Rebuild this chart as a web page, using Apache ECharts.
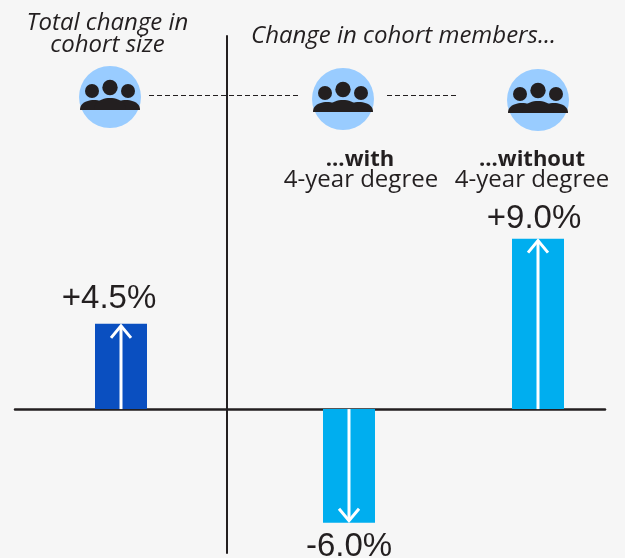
<!DOCTYPE html>
<html><head><meta charset="utf-8">
<style>html,body{margin:0;padding:0;background:#f6f6f6}#c{width:625px;height:558px}</style>
<script src="https://cdn.jsdelivr.net/npm/echarts@6/dist/echarts.min.js"></script>
</head><body><div id="c"></div>
<script>
const totalCategories = ['Total change in cohort size'];
const totalValues = [4.5];
const totalLabels = ['+4.5%'];
const degreeCategories = ['...with 4-year degree', '...without 4-year degree'];
const degreeValues = [-6.0, 9.0];
const degreeLabels = ['-6.0%', '+9.0%'];

const DARK = '#231f20', BLUE = '#0a4fc0', CYAN = '#00aeef', DISC = '#99ccff', BG = '#f6f6f6';
const yRange = {min: -7.6, max: 19.7};
const FONT = 'Open Sans';

function hiddenY(idx, extra) {
  return Object.assign({type: 'value', gridIndex: idx, min: yRange.min, max: yRange.max,
    axisLabel: {show: false}, axisTick: {show: false}, splitLine: {show: false}, axisLine: {show: false}}, extra || {});
}
function hiddenX(idx, data, extra) {
  return Object.assign({type: 'category', gridIndex: idx, data: data,
    axisLabel: {show: false}, axisTick: {show: false}, splitLine: {show: false}, axisLine: {show: false}}, extra || {});
}
function arrow(params, api) {
  const base = api.coord([api.value(0), 0]);
  const end = api.coord([api.value(0), api.value(1)]);
  const dir = end[1] < base[1] ? 1 : -1;       // 1 = pointing up
  const tipY = end[1] + dir * 2;
  const x = base[0];
  const st = {stroke: '#ffffff', lineWidth: 3, fill: null};
  return {type: 'group', children: [
    {type: 'line', shape: {x1: x, y1: base[1], x2: x, y2: tipY}, style: st},
    {type: 'polyline', shape: {points: [[x - 10, tipY + dir * 12], [x, tipY], [x + 10, tipY + dir * 12]]}, style: st}
  ]};
}
function barData(values, colors, labelPlace) {
  return values.map((v, i) => ({value: v, itemStyle: {color: colors[i]},
    label: {position: v >= 0 ? 'top' : 'bottom', distance: labelPlace[i][0], offset: [labelPlace[i][1], 0]}}));
}
function labelOpt(labels) {
  return {show: true, fontFamily: 'Liberation Sans', fontSize: 33, color: DARK,
    formatter: p => labels[p.dataIndex]};
}
function icon(cx, cy) {
  const base = cy + 13;
  const dome = (l, r, t) => {
    const pts = [];
    const mx = (l + r) / 2, rx = (r - l) / 2, ry = base - t;
    for (let a = 0; a <= 24; a++) {
      const th = Math.PI * a / 24;
      pts.push([mx - rx * Math.cos(th), base - ry * Math.pow(Math.sin(th), 0.85)]);
    }
    return {type: 'polygon', shape: {points: pts}, style: {fill: DARK}};
  };
  const head = (x, y, r) => ({type: 'circle', shape: {cx: x, cy: y, r: r}, style: {fill: DARK}});
  return [
    {type: 'circle', shape: {cx: cx, cy: cy, r: 31}, style: {fill: DISC}},
    dome(cx - 30, cx - 2, cy + 3),
    dome(cx + 2, cx + 30, cy + 3),
    dome(cx - 16, cx + 16, cy + 1),
    head(cx - 18, cy - 6, 7), head(cx, cy - 9.5, 7.7), head(cx + 18, cy - 6, 7)
  ];
}
function txt(x, y, s, o) {
  return {type: 'text', x: x, y: y, style: Object.assign({text: s, fill: DARK, fontFamily: FONT, fontSize: 24,
    align: 'center', verticalAlign: 'middle'}, o || {})};
}
function dash(x1, x2, y) {
  return {type: 'line', shape: {x1: x1, y1: y, x2: x2, y2: y}, style: {stroke: DARK, lineWidth: 1, lineDash: [5, 3]}};
}

const chart = echarts.init(document.getElementById('c'), null, {renderer: 'canvas'});
const gridTop = 36, gridH = 517;
chart.setOption({
  animation: false,
  backgroundColor: BG,
  grid: [
    {left: 15, width: 212, top: gridTop, height: gridH, outerBoundsMode: 'none'},
    {left: 254.5, width: 378, top: gridTop, height: gridH, outerBoundsMode: 'none'},
    {left: 15, width: 590, top: gridTop, height: gridH, outerBoundsMode: 'none'}
  ],
  xAxis: [
    hiddenX(0, totalCategories),
    hiddenX(1, degreeCategories),
    hiddenX(2, [''], {axisLine: {show: true, onZero: true, lineStyle: {color: DARK, width: 2.5}}})
  ],
  yAxis: [
    hiddenY(0, {position: 'right', axisLine: {show: true, lineStyle: {color: DARK, width: 2}}}),
    hiddenY(1),
    hiddenY(2)
  ],
  graphic: {elements: [
    dash(149, 301, 95.5), dash(387, 459, 95.5),
    ...icon(110, 97), ...icon(343, 99), ...icon(538, 100),
    txt(107.5, 23, 'Total change in', {fontStyle: 'italic'}),
    txt(107.5, 45, 'cohort size', {fontStyle: 'italic'}),
    txt(403.5, 36, 'Change in cohort members...', {fontStyle: 'italic'}),
    txt(360, 160, '...with', {fontWeight: 'bold', fontSize: 22}),
    txt(361, 180, '4-year degree'),
    txt(532, 160, '...without', {fontWeight: 'bold', fontSize: 22}),
    txt(532, 180, '4-year degree')
  ]},
  series: [
    {type: 'bar', xAxisIndex: 0, yAxisIndex: 0, barWidth: 52,
     data: barData(totalValues, [BLUE], [[8, -12]]), label: labelOpt(totalLabels), z: 3},
    {type: 'bar', xAxisIndex: 1, yAxisIndex: 1, barWidth: 52,
     data: barData(degreeValues, [CYAN, CYAN], [[8, 0], [3, -4]]), label: labelOpt(degreeLabels), z: 3},
    {type: 'custom', xAxisIndex: 0, yAxisIndex: 0, renderItem: arrow, encode: {x: 0, y: 1}, z: 4,
     data: totalValues.map((v, i) => [i, v])},
    {type: 'custom', xAxisIndex: 1, yAxisIndex: 1, renderItem: arrow, encode: {x: 0, y: 1}, z: 4,
     data: degreeValues.map((v, i) => [i, v])}
  ]
});
</script></body></html>
